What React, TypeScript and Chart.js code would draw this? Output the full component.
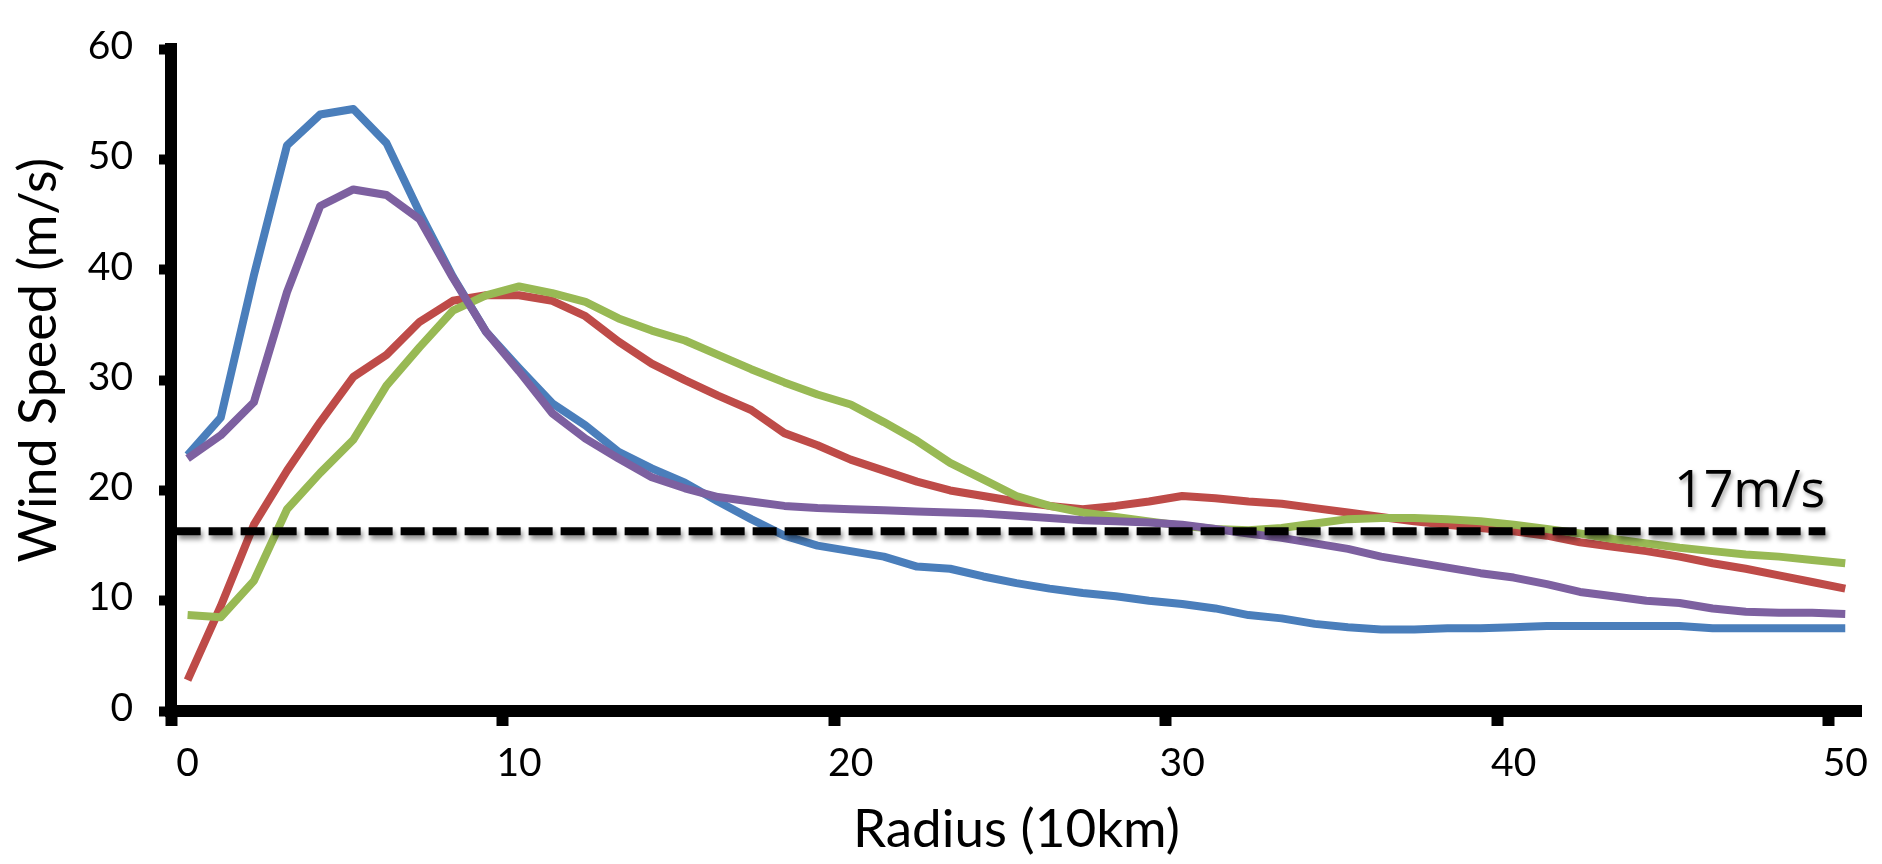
import React, { useEffect, useRef } from "react";
import { Chart, registerables } from "chart.js";

Chart.register(...registerables);

const radiusLabels = [
  "0", "1", "2", "3", "4", "5", "6", "7", "8", "9",
  "10", "11", "12", "13", "14", "15", "16", "17", "18", "19",
  "20", "21", "22", "23", "24", "25", "26", "27", "28", "29",
  "30", "31", "32", "33", "34", "35", "36", "37", "38", "39",
  "40", "41", "42", "43", "44", "45", "46", "47", "48", "49",
  "50",
];

const blueSeries = [
  23.2, 26.6, 39.5, 51.3, 54.1, 54.6, 51.5, 45.2, 39.4, 34.4,
  31.1, 27.9, 25.9, 23.5, 22.0, 20.7, 19.0, 17.4, 15.9, 15.0,
  14.5, 14.0, 13.1, 12.9, 12.2, 11.6, 11.1, 10.7, 10.4, 10.0,
  9.7, 9.3, 8.7, 8.4, 7.9, 7.6, 7.4, 7.4, 7.5, 7.5,
  7.6, 7.7, 7.7, 7.7, 7.7, 7.7, 7.5, 7.5, 7.5, 7.5,
  7.5,
];

const redSeries = [
  2.8, 9.5, 16.9, 21.8, 26.2, 30.3, 32.3, 35.3, 37.2, 37.7,
  37.7, 37.2, 35.8, 33.5, 31.5, 30.0, 28.6, 27.3, 25.2, 24.1,
  22.8, 21.8, 20.8, 20.0, 19.5, 19.0, 18.6, 18.3, 18.6, 19.0,
  19.5, 19.3, 19.0, 18.8, 18.4, 18.0, 17.6, 17.2, 16.9, 16.6,
  16.3, 15.9, 15.3, 14.9, 14.5, 14.0, 13.4, 12.9, 12.3, 11.7,
  11.1,
];

const greenSeries = [
  8.7, 8.5, 11.8, 18.3, 21.6, 24.6, 29.5, 33.0, 36.3, 37.7,
  38.5, 37.9, 37.1, 35.6, 34.5, 33.6, 32.3, 31.0, 29.8, 28.7,
  27.8, 26.2, 24.5, 22.5, 21.0, 19.5, 18.6, 18.0, 17.6, 17.2,
  16.8, 16.5, 16.4, 16.6, 17.0, 17.4, 17.5, 17.5, 17.4, 17.2,
  16.9, 16.5, 16.1, 15.6, 15.2, 14.8, 14.5, 14.2, 14.0, 13.7,
  13.4,
];

const purpleSeries = [
  22.9, 25.0, 28.0, 38.0, 45.8, 47.3, 46.8, 44.6, 39.3, 34.4,
  30.8, 27.0, 24.7, 22.9, 21.2, 20.2, 19.4, 19.0, 18.6, 18.4,
  18.3, 18.2, 18.1, 18.0, 17.9, 17.7, 17.5, 17.3, 17.2, 17.1,
  16.9, 16.5, 16.1, 15.7, 15.2, 14.7, 14.0, 13.5, 13.0, 12.5,
  12.1, 11.5, 10.8, 10.4, 10.0, 9.8, 9.3, 9.0, 8.9, 8.9,
  8.8,
];

const yTicks = [0, 10, 20, 30, 40, 50, 60];

const THRESHOLD_VALUE = 16.3;
const THRESHOLD_FROM = -0.33;
const THRESHOLD_TO = 49.4;
const THRESHOLD_LABEL = "17m/s";

const X_TITLE = "Radius (10km)";
const Y_TITLE = "Wind Speed (m/s)";

const FONT = "Lato";

const thresholdPlugin = {
  id: "thresholdLine",
  afterDatasetsDraw(chart: any) {
    const { ctx, scales } = chart;
    const x = scales.x;
    const y = scales.y;
    const yPix = y.getPixelForValue(THRESHOLD_VALUE);
    const x1 = x.getPixelForValue(THRESHOLD_FROM);
    const x2 = x.getPixelForValue(THRESHOLD_TO);
    ctx.save();
    ctx.shadowColor = "rgba(0,0,0,0.45)";
    ctx.shadowBlur = 5;
    ctx.shadowOffsetX = 2;
    ctx.shadowOffsetY = 4;
    ctx.strokeStyle = "#000";
    ctx.lineWidth = 8;
    ctx.lineCap = "butt";
    ctx.setLineDash([24, 8]);
    ctx.beginPath();
    ctx.moveTo(x1, yPix);
    ctx.lineTo(x2, yPix);
    ctx.stroke();
    ctx.setLineDash([]);
    ctx.shadowBlur = 4;
    ctx.shadowOffsetX = 2;
    ctx.shadowOffsetY = 3;
    ctx.shadowColor = "rgba(0,0,0,0.35)";
    ctx.font = '52px "Open Sans"';
    ctx.fillStyle = "#000";
    ctx.textAlign = "right";
    ctx.textBaseline = "alphabetic";
    ctx.fillText(THRESHOLD_LABEL, x2, yPix - 24);
    ctx.restore();
  },
};

const yTitlePlugin = {
  id: "yTitle",
  afterDraw(chart: any) {
    const { ctx, chartArea } = chart;
    const cy = (chartArea.top + chartArea.bottom) / 2 - 20;
    ctx.save();
    ctx.translate(39, cy);
    ctx.rotate(-Math.PI / 2);
    ctx.font = `52px ${FONT}`;
    ctx.fillStyle = "#000";
    ctx.textAlign = "center";
    ctx.textBaseline = "middle";
    ctx.fillText(Y_TITLE, 0, 0);
    ctx.restore();
  },
};

export default function App() {
  const canvasRef = useRef<HTMLCanvasElement>(null);

  useEffect(() => {
    if (!canvasRef.current) return;
    const chart = new Chart(canvasRef.current, {
      type: "line",
      data: {
        labels: radiusLabels,
        datasets: [
          { label: "Blue", data: blueSeries, borderColor: "#4A7EBB", order: 3 },
          { label: "Red", data: redSeries, borderColor: "#BE4B48", order: 2 },
          { label: "Green", data: greenSeries, borderColor: "#98B954", order: 1 },
          { label: "Purple", data: purpleSeries, borderColor: "#7D60A0", order: 0 },
        ].map((d) => ({
          ...d,
          borderWidth: 8,
          pointRadius: 0,
          pointHoverRadius: 0,
          tension: 0,
          fill: false,
          borderJoinStyle: "round" as const,
          borderCapStyle: "butt" as const,
        })),
      },
      options: {
        responsive: false,
        devicePixelRatio: 1,
        animation: false,
        layout: { padding: { top: 28, right: 13, bottom: 0, left: 0 } },
        plugins: {
          legend: { display: false },
          tooltip: { enabled: false },
        },
        scales: {
          x: {
            type: "category",
            offset: true,
            afterFit: (s: any) => {
              s.height = 153;
            },
            grid: {
              offset: true,
              drawOnChartArea: false,
              drawTicks: true,
              tickLength: 15,
              tickWidth: 12,
              lineWidth: 1,
              tickColor: (ctx: any) =>
                typeof ctx.index === "number" && ctx.index % 10 === 0 ? "#000" : "rgba(0,0,0,0)",
            },
            border: { display: true, color: "#000", width: 12 },
            ticks: {
              autoSkip: false,
              maxRotation: 0,
              minRotation: 0,
              color: "#000",
              padding: 14,
              font: { family: FONT, size: 39 },
              callback: function (this: any, value: any, index: number) {
                return index % 10 === 0 ? this.getLabelForValue(value) : "";
              },
            },
            title: {
              display: true,
              text: X_TITLE,
              color: "#000",
              font: { family: FONT, size: 53 },
              padding: { top: 0, bottom: 2 },
            },
          },
          y: {
            min: 0,
            max: 60,
            afterFit: (s: any) => {
              s.width = 171;
            },
            afterBuildTicks: (s: any) => {
              s.ticks = yTicks.map((v) => ({ value: v }));
            },
            grid: {
              drawOnChartArea: false,
              drawTicks: true,
              tickLength: 12,
              tickWidth: 10,
              lineWidth: 1,
              tickColor: "#000",
            },
            border: { display: true, color: "#000", width: 12 },
            ticks: {
              color: "#000",
              padding: 26,
              labelOffset: -3,
              font: { family: FONT, size: 39 },
            },
            title: { display: false },
          },
        },
      },
      plugins: [thresholdPlugin, yTitlePlugin],
    } as any);
    return () => chart.destroy();
  }, []);

  return (
    <div
      style={{
        position: "fixed",
        left: 0,
        top: 0,
        width: 1882,
        height: 864,
        background: "#fff",
      }}
    >
      <canvas
        ref={canvasRef}
        width={1882}
        height={864}
        style={{ display: "block", width: 1882, height: 864 }}
      />
    </div>
  );
}
